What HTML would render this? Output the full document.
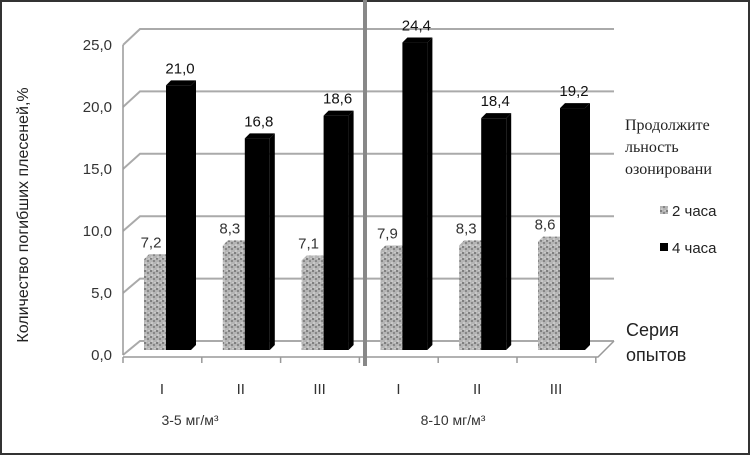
<!DOCTYPE html>
<html><head><meta charset="utf-8">
<style>
html,body{margin:0;padding:0;background:#fff;}
svg{display:block;font-family:"Liberation Sans","DejaVu Sans",sans-serif;}
</style></head>
<body>
<svg id="chart" width="750" height="455" viewBox="0 0 750 455" xmlns="http://www.w3.org/2000/svg">
<defs>
<pattern id="granite" width="6" height="6" patternUnits="userSpaceOnUse">
<rect width="6" height="6" fill="#b4b4b4"/>
<circle cx="1" cy="1" r="1" fill="#6e6e6e"/><circle cx="4" cy="3" r="0.9" fill="#666"/><circle cx="2" cy="5" r="0.8" fill="#e0e0e0"/><circle cx="5" cy="0.5" r="0.6" fill="#ddd"/>
</pattern>
</defs>
<rect x="1" y="1" width="748" height="453" fill="#fff" stroke="#333" stroke-width="2"/>
<g id="grid"></g><g id="bars"></g><g id="labels"></g>
<rect x="363" y="0" width="4" height="366" fill="#888"/>
<text transform="translate(28,215) rotate(-90)" x="0" y="0" font-size="16" fill="#222" text-anchor="middle">Количество погибших плесеней,%</text>
<text x="190" y="425" font-size="14" fill="#333" text-anchor="middle">3-5 мг/м³</text>
<text x="453" y="425" font-size="14" fill="#333" text-anchor="middle">8-10 мг/м³</text>
<g font-family="'Liberation Serif',serif" font-size="16" fill="#222">
<text x="625" y="130">Продолжите</text>
<text x="625" y="152">льность</text>
<text x="625" y="174">озонировани</text>
</g>
<rect x="660" y="206" width="8" height="8" fill="url(#granite)"/>
<text x="672" y="216" font-size="15" fill="#222">2 часа</text>
<rect x="660" y="243" width="8" height="8" fill="#000"/>
<text x="672" y="253" font-size="15" fill="#222">4 часа</text>
<text x="626" y="336" font-size="18" fill="#222">Серия</text>
<text x="626" y="361" font-size="18" fill="#222">опытов</text>
</svg>
<script>
const categories = ["I","II","III","I","II","III"];
const series2h = [7.2, 8.3, 7.1, 7.9, 8.3, 8.6];
const series4h = [21.0, 16.8, 18.6, 24.4, 18.4, 19.2];
const yTicks = [0,5,10,15,20,25];
const yTickLabels = ["0,0","5,0","10,0","15,0","20,0","25,0"];

const NS = "http://www.w3.org/2000/svg";
function mk(tag, attrs, parent){const e=document.createElementNS(NS,tag);for(const k in attrs)e.setAttribute(k,attrs[k]);parent.appendChild(e);return e;}
const grid=document.getElementById('grid'), bars=document.getElementById('bars'), labels=document.getElementById('labels');
const yFront = v => 355 - v*12.4;
const yBack = v => 341 - v*12.48;
const yBar = v => 350 - v*12.6;
const xCat = i => 162 + i*78.8;

yTicks.forEach((t,i)=>{
  const g=mk('polyline',{points:`123,${yFront(t)} 140,${yBack(t)} 614,${yBack(t)}`,fill:'none',stroke:'#aaa','stroke-width':2},grid);
  
  
  const tx=mk('text',{x:112,y:yFront(t)+5,'font-size':15,fill:'#333','text-anchor':'end'},labels);
  tx.textContent=yTickLabels[i];
  
  
});
let ax=mk('line',{x1:123,y1:yFront(25),x2:123,y2:yFront(0),stroke:'#999','stroke-width':1.5},grid);


let fl=mk('polyline',{points:`123,357 598,357 614,${yBack(0)}`,fill:'none',stroke:'#999','stroke-width':1.5},grid);


for(let i=0;i<=categories.length;i++){
  const x=123+i*78.8;
  const tk=mk('line',{x1:x,y1:357,x2:x,y2:363,stroke:'#999','stroke-width':1.5},grid);
  
  
}
function bar(x,w,v,fill,name){
  const top=yBar(v), d=5;
  const g=mk('g',{},bars);
  
  
  mk('rect',{x:x,y:top,width:w,height:350-top,fill:fill},g);
  mk('polygon',{points:`${x},${top} ${x+d},${top-d} ${x+w+d},${top-d} ${x+w},${top}`,fill:fill},g);
  mk('polygon',{points:`${x+w},${top} ${x+w+d},${top-d} ${x+w+d},${350-d} ${x+w},350`,fill:fill},g);
}
categories.forEach((c,i)=>{
  const cx=xCat(i);
  bar(cx-18,22,series2h[i],'url(#granite)','bar-2h-'+i);
  bar(cx+4,25,series4h[i],'#000','bar-4h-'+i);
  const l1=mk('text',{x:cx-11,y:yBar(series2h[i])-12,'font-size':15,fill:'#333','text-anchor':'middle'},labels);
  l1.textContent=series2h[i].toFixed(1).replace('.',',');
  
  
  const l2=mk('text',{x:cx+18,y:yBar(series4h[i])-12,'font-size':15,fill:'#111','text-anchor':'middle'},labels);
  l2.textContent=series4h[i].toFixed(1).replace('.',',');
  
  
  const cl=mk('text',{x:cx,y:394,'font-size':15,fill:'#333','text-anchor':'middle'},labels);
  cl.textContent=c;
  
  
});
</script>
</body></html>
